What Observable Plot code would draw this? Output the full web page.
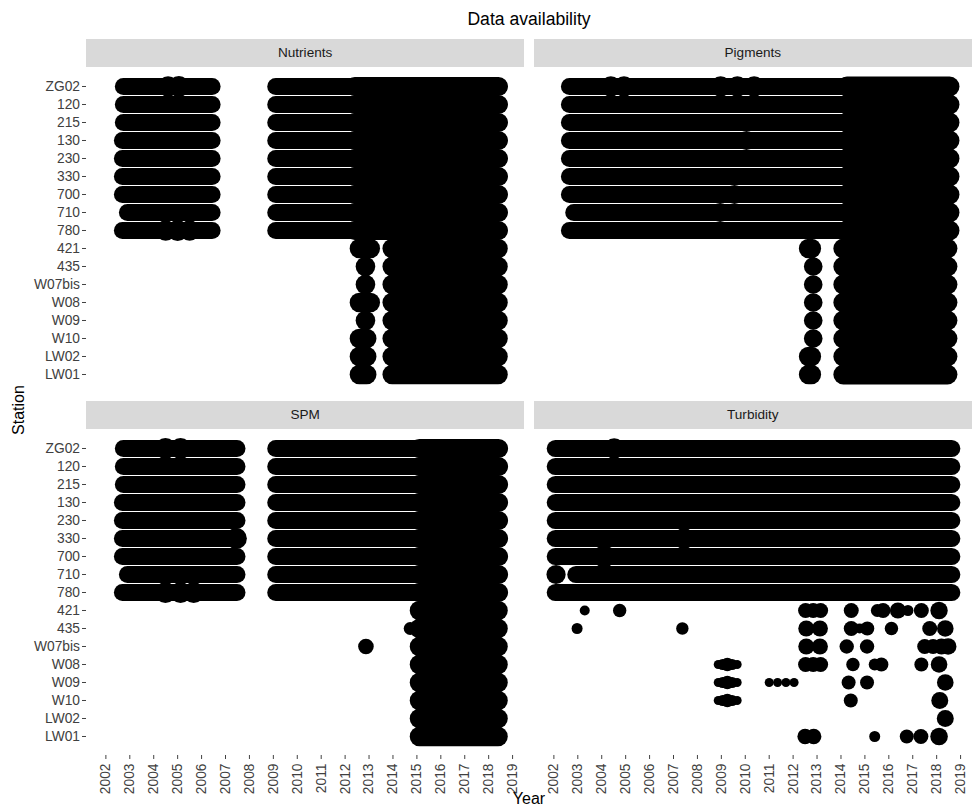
<!DOCTYPE html>
<html>
<head>
<meta charset="utf-8">
<script src="https://cdn.jsdelivr.net/npm/d3@7"></script>
<script src="https://cdn.jsdelivr.net/npm/@observablehq/plot@0.6"></script>
<style>
  body { margin: 0; background: #fff; font-family: "Liberation Sans", Arial, sans-serif; }
  #chart { position: relative; width: 973px; height: 809px; overflow: hidden; }
  .abs { position: absolute; }
  .strip { position: absolute; background: #d9d9d9; color: #1a1a1a; font-size: 13.6px;
           display: flex; align-items: center; justify-content: center; }
  .title { position: absolute; font-size: 17.6px; line-height: 1; color: #000; text-align: center; }
  .axtitle { position: absolute; font-size: 16px; line-height: 1; color: #000; white-space: nowrap; }
</style>
</head>
<body>
<div id="chart"></div>
<script>
// ---------------- data ----------------
const stations = ["ZG02","120","215","130","230","330","700","710","780",
                  "421","435","W07bis","W08","W09","W10","LW02","LW01"];
const upperStations = ["ZG02","120","215","130","230","330","700","710","780"];
const lowerStations = ["421","435","W07bis","W08","W09","W10","LW02","LW01"];
const yearTicks = [2002,2003,2004,2005,2006,2007,2008,2009,2010,2011,2012,2013,2014,2015,2016,2017,2018,2019];
const panelNames = ["Nutrients","Pigments","SPM","Turbidity"];

// runs of (nearly) continuous sampling: [stations, first year, last year, size n]
const nutrientRuns = [
  [["ZG02","120","215"], 2002.73, 2006.44, 8.5],
  [["130","230","330","700","780"], 2002.69, 2006.44, 8.5],
  [["710"], 2002.90, 2006.44, 8.5],
  [upperStations, 2009.10, 2018.44, 8.5],
  [upperStations, 2012.40, 2018.41, 9.45],
  [["421","W08"], 2012.60, 2013.05, 9.8],
  [["W10","LW02","LW01"], 2012.60, 2012.90, 9.8],
  [lowerStations, 2013.97, 2018.39, 9.8]
];
// individual samples: [stations, year, size n]
const nutrientDots = [
  [["ZG02"], 2004.60, 10.3], [["ZG02"], 2005.05, 10.5],
  [["780"], 2004.50, 10.3], [["780"], 2005.00, 10.5], [["780"], 2005.50, 10.3],
  [["435","W07bis","W09"], 2012.85, 9.8]
];

const pigmentRuns = [
  [["ZG02","120","215","130","230","330","700","780"], 2002.65, 2018.57, 8.5],
  [["710"], 2002.83, 2018.57, 8.5],
  [upperStations, 2014.25, 2018.54, 9.9],
  [["421","LW02","LW01"], 2012.65, 2012.76, 9.8],
  [lowerStations, 2014.10, 2018.45, 10.0]
];
const pigmentDots = [
  [["ZG02"], 2004.38, 10.2], [["ZG02"], 2004.93, 10.2],
  [["ZG02"], 2008.97, 10.2], [["ZG02"], 2009.67, 10.2], [["ZG02"], 2010.37, 10.2],
  [["130"], 2010.05, 9.6], [["700"], 2009.55, 9.6], [["710"], 2008.95, 9.6],
  [["435","W07bis","W08","W09","W10"], 2012.84, 9.3]
];

const spmRuns = [
  [["ZG02","120","215"], 2002.73, 2007.48, 8.5],
  [["130","230","700","780"], 2002.69, 2007.48, 8.5],
  [["330"], 2002.69, 2007.50, 8.5],
  [["710"], 2002.90, 2007.48, 8.5],
  [upperStations, 2009.10, 2018.44, 8.5],
  [upperStations, 2015.10, 2018.41, 9.6],
  [lowerStations, 2015.11, 2018.39, 9.8]
];
const spmDots = [
  [["ZG02"], 2004.49, 10.5], [["ZG02"], 2005.12, 10.5],
  [["780"], 2004.49, 10.5], [["780"], 2005.12, 10.5], [["780"], 2005.67, 10.5],
  [["330"], 2007.45, 10.6],
  [["435"], 2014.72, 6.5],
  [["W07bis"], 2012.87, 7.8]
];

const turbidityRuns = [
  [["ZG02","120","215","130","230","330","700","780"], 2002.06, 2018.63, 8.6],
  [["710"], 2002.92, 2018.63, 8.6]
];
const turbidityDots = [
  [["710"], 2002.09, 9.6],
  [["ZG02"], 2004.52, 10.3], [["700"], 2004.10, 11.0], [["330"], 2007.44, 10.5],
  // 421
  [["421"], 2003.29, 5.0], [["421"], 2004.75, 6.7],
  [["421"], 2012.52, 7.5], [["421"], 2012.84, 7.5], [["421"], 2013.15, 7.5],
  [["421"], 2014.43, 7.5], [["421"], 2015.52, 6.5], [["421"], 2015.76, 7.5],
  [["421"], 2016.38, 8.0], [["421"], 2016.80, 5.5], [["421"], 2017.36, 7.5], [["421"], 2018.10, 8.7],
  // 435
  [["435"], 2002.97, 5.5], [["435"], 2007.37, 6.2],
  [["435"], 2012.55, 8.0], [["435"], 2013.12, 8.0],
  [["435"], 2014.43, 7.5], [["435"], 2014.78, 5.0], [["435"], 2015.10, 7.0],
  [["435"], 2016.11, 6.7], [["435"], 2017.71, 7.5], [["435"], 2018.36, 8.3],
  // W07bis
  [["W07bis"], 2012.55, 8.0], [["W07bis"], 2013.12, 8.0],
  [["W07bis"], 2014.24, 7.2], [["W07bis"], 2015.09, 7.2],
  [["W07bis"], 2017.50, 7.5], [["W07bis"], 2017.85, 7.5], [["W07bis"], 2018.20, 8.0], [["W07bis"], 2018.48, 8.3],
  // W08, W09, W10 (2009 cluster)
  [["W08","W09","W10"], 2008.87, 4.5], [["W08","W09","W10"], 2009.05, 5.5], [["W08","W09","W10"], 2009.25, 6.7],
  [["W08","W09","W10"], 2009.45, 5.5], [["W08","W09","W10"], 2009.66, 4.5],
  // W08
  [["W08"], 2012.52, 7.5], [["W08"], 2012.84, 7.5], [["W08"], 2013.15, 7.5],
  [["W08"], 2014.50, 6.7], [["W08"], 2015.41, 6.0], [["W08"], 2015.69, 7.0],
  [["W08"], 2017.36, 7.0], [["W08"], 2018.10, 8.3],
  // W09
  [["W09"], 2011.00, 4.5], [["W09"], 2011.35, 4.5], [["W09"], 2011.70, 4.5], [["W09"], 2012.04, 4.5],
  [["W09"], 2014.32, 7.0], [["W09"], 2015.09, 7.0], [["W09"], 2018.36, 8.3],
  // W10
  [["W10"], 2014.41, 7.0], [["W10"], 2018.13, 8.5],
  // LW02
  [["LW02"], 2018.36, 8.5],
  // LW01
  [["LW01"], 2012.50, 7.7], [["LW01"], 2012.86, 7.7],
  [["LW01"], 2015.41, 5.5], [["LW01"], 2016.75, 7.0], [["LW01"], 2017.34, 7.5], [["LW01"], 2018.10, 8.8]
];

// ---------------- layout ----------------
const FONT = "'Liberation Sans', Arial, sans-serif";
const PANEL_W = 438.3, PANEL_H = 326;
const COLS = [86, 533.7];      // panel left edges
const ROWS = [66.9, 428.6];    // panel top edges
const STRIP_H = 28;

const chart = document.getElementById("chart");

function addDiv(cls, text, css) {
  const d = document.createElement("div");
  d.className = cls;
  d.textContent = text;
  Object.assign(d.style, css);
  chart.appendChild(d);
  return d;
}

function makePanel(runs, dots, showX, showY) {
  const runRows = runs.flatMap(([sts, from, to, n]) => sts.map(s => ({station: s, from, to, n})));
  const dotRows = dots.flatMap(([sts, year, n]) => sts.map(s => ({station: s, year, n})));
  const ml = showY ? 86 : 0;
  const mb = showX ? 60 : 0;
  return Plot.plot({
    width: ml + PANEL_W,
    height: PANEL_H + mb,
    marginLeft: ml, marginRight: 0, marginTop: 0, marginBottom: mb,
    style: {fontFamily: FONT, fontSize: "13.8px", color: "#404040", background: "transparent", overflow: "visible"},
    x: {domain: [2001.19, 2019.51], ticks: yearTicks, tickFormat: d => String(d),
        tickRotate: -90, tickSize: 4, tickPadding: 4, label: null, axis: showX ? "bottom" : null},
    y: {type: "point", domain: stations, padding: 0.6, tickSize: 4, tickPadding: 2.5,
        label: null, axis: showY ? "left" : null},
    r: {type: "linear", domain: [0, 20], range: [0, 20]},
    marks: [
      Plot.link(runRows, {x1: "from", x2: "to", y1: "station", y2: "station",
        stroke: "black", strokeWidth: d => 2 * d.n, strokeLinecap: "round", clip: true}),
      Plot.dot(dotRows, {x: "year", y: "station", r: "n", fill: "black", clip: true})
    ]
  });
}

const panelData = [
  [nutrientRuns, nutrientDots],
  [pigmentRuns, pigmentDots],
  [spmRuns, spmDots],
  [turbidityRuns, turbidityDots]
];

panelNames.forEach((name, i) => {
  const col = i % 2, row = Math.floor(i / 2);
  addDiv("strip", name, {left: COLS[col] + "px", top: (ROWS[row] - STRIP_H) + "px",
                         width: PANEL_W + "px", height: STRIP_H + "px"});
  const svg = makePanel(panelData[i][0], panelData[i][1], row === 1, col === 0);
  const wrap = document.createElement("div");
  wrap.className = "abs";
  wrap.style.left = (col === 0 ? 0 : COLS[1]) + "px";
  wrap.style.top = ROWS[row] + "px";
  wrap.appendChild(svg);
  chart.appendChild(wrap);
});

addDiv("title", "Data availability", {left: "329px", top: "11px", width: "400px"});
addDiv("axtitle", "Station", {left: "19px", top: "410px", transform: "translate(-50%,-50%) rotate(-90deg)"});
addDiv("axtitle", "Year", {left: "529px", top: "799px", transform: "translate(-50%,-50%)"});
</script>
</body>
</html>
